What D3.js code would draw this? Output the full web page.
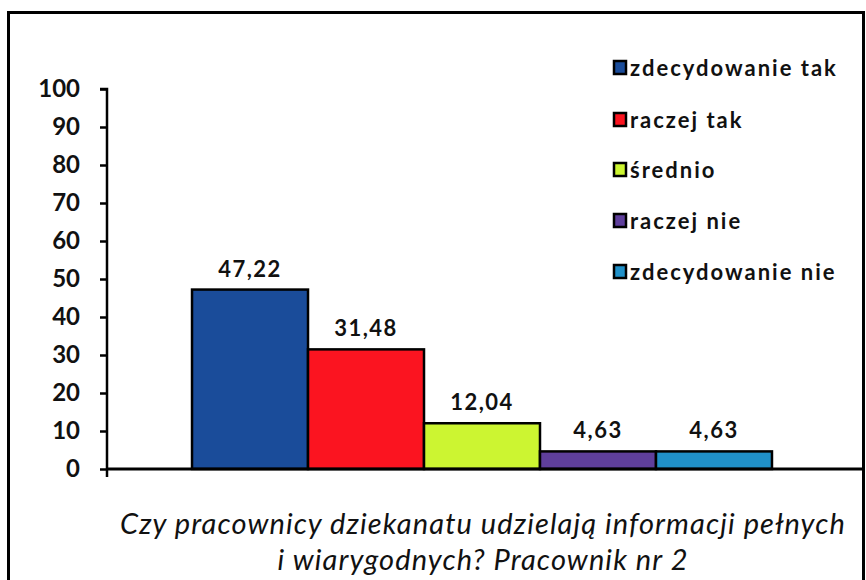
<!DOCTYPE html>
<html><head><meta charset="utf-8">
<script src="https://cdn.jsdelivr.net/npm/d3@7"></script>
<style>body{margin:0;background:#fff}svg{display:block}</style>
</head><body><svg id="c" width="866" height="580"></svg>
<script>
const categories = ["Pracownik nr 2"];
const seriesNames = ["zdecydowanie tak","raczej tak","średnio","raczej nie","zdecydowanie nie"];
const seriesValues = [47.22, 31.48, 12.04, 4.63, 4.63];
const seriesColors = ["#1a4c9a","#fb1420","#ccf531","#5f3f9c","#2090c8"];
const yTicks = [0,10,20,30,40,50,60,70,80,90,100];
const titleLines = ["Czy pracownicy dziekanatu udzielają informacji pełnych","i wiarygodnych? Pracownik nr 2"];

const svg = d3.select("#c");
const font = "Lato, 'Open Sans', sans-serif";
svg.append("rect").attr("x",8.5).attr("y",12.5).attr("width",855).attr("height",600)
  .attr("fill","#fff").attr("stroke","#000").attr("stroke-width",3);

const pL=107, pR=857, pT=89, pB=469;
const y = d3.scaleLinear().domain([0,100]).range([pB,pT]);
const x0 = d3.scaleBand().domain(categories).range([pL,pR]).paddingInner(0).paddingOuter(0.1466);
const x1 = d3.scaleBand().domain(seriesNames).range([0,x0.bandwidth()]).padding(0);

const yAxis = d3.axisLeft(y).tickValues(yTicks).tickSize(7).tickPadding(20);
const gy = svg.append("g").attr("transform",`translate(${pL},0)`).call(yAxis);
gy.select(".domain").attr("stroke","#000").attr("stroke-width",2.5).attr("d",`M-7,${pT}H0V${pB}`);
gy.selectAll(".tick line").attr("stroke","#000").attr("stroke-width",2.5);
gy.selectAll(".tick text").attr("font-family",font).attr("font-weight","bold").attr("font-size",24).attr("fill","#111");

const g = svg.append("g");
const data = seriesNames.map((n,i)=>({n,v:seriesValues[i],c:seriesColors[i],cat:categories[0]}));
g.selectAll("rect.bar").data(data).join("rect").attr("class","bar")
  .attr("x",d=>x0(d.cat)+x1(d.n)).attr("width",x1.bandwidth())
  .attr("y",d=>y(d.v)).attr("height",d=>y(0)-y(d.v))
  .attr("fill",d=>d.c).attr("stroke","#000").attr("stroke-width",2.5);
g.selectAll("text.lab").data(data).join("text").attr("class","lab")
  .attr("x",d=>x0(d.cat)+x1(d.n)+x1.bandwidth()/2).attr("y",d=>y(d.v)-13)
  .attr("text-anchor","middle").attr("font-family",font).attr("font-weight","bold").attr("font-size",22)
  .attr("letter-spacing",1.5).attr("fill","#111")
  .text(d=>d.v.toFixed(2).replace(".",","));

svg.append("line").attr("x1",pL).attr("x2",862).attr("y1",y(0)).attr("y2",y(0)).attr("stroke","#000").attr("stroke-width",3);
svg.append("line").attr("x1",pL).attr("x2",pL).attr("y1",y(0)).attr("y2",y(0)+8).attr("stroke","#000").attr("stroke-width",2.5);

const lg = svg.append("g").attr("transform","translate(614,0)");
const legY = [68,120,170,221,272];
data.forEach((d,i)=>{
  lg.append("rect").attr("x",0).attr("y",legY[i]-7).attr("width",12).attr("height",13)
    .attr("fill",d.c).attr("stroke","#000").attr("stroke-width",2.5);
  lg.append("text").attr("x",16).attr("y",legY[i]).attr("dy","0.35em")
    .attr("font-family",font).attr("font-weight","bold").attr("font-size",22).attr("letter-spacing",2)
    .attr("fill","#111").text(d.n);
});

svg.selectAll("text.title").data(titleLines).join("text").attr("class","title")
  .attr("x",483).attr("y",(d,i)=>524+i*36).attr("dy","0.35em").attr("text-anchor","middle")
  .attr("font-family",font).attr("font-style","italic").attr("font-size",29).attr("letter-spacing",1.1)
  .attr("fill","#111").text(d=>d);
</script></body></html>
